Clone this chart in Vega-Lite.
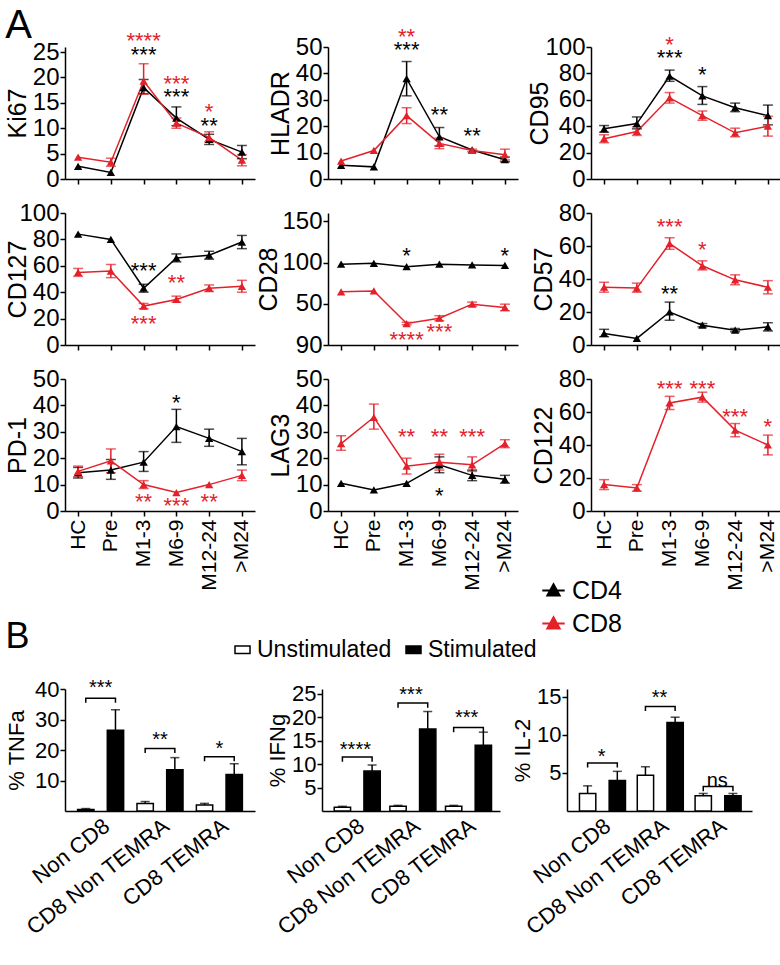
{
"$schema": "https://vega.github.io/schema/vega-lite/v6.json",
"padding": {"left": 5, "top": 5, "right": 3, "bottom": 5},
"config": {
 "font": "Liberation Sans",
 "view": {"stroke": null},
 "axis": {"grid": false, "domainColor": "black", "domainWidth": 1.5, "tickColor": "black", "tickWidth": 1.5, "tickSize": 5, "labelFont": "Liberation Sans", "labelFontSize": 24, "labelColor": "black", "labelOverlap": false, "labelBound": false, "titleFont": "Liberation Sans", "titleFontSize": 25, "titleFontWeight": "normal", "titleColor": "black", "labelPadding": 1, "titlePadding": 2},
 "legend": {"labelFont": "Liberation Sans", "labelColor": "black"},
 "title": {"font": "Liberation Sans", "fontWeight": "normal", "color": "black"},
 "text": {"font": "Liberation Sans"}
},
"resolve": {"scale": {"color": "shared", "fill": "shared"}},
"spacing": 28,
"vconcat": [
{
 "title": {"text": "A", "anchor": "start", "frame": "bounds", "fontSize": 40, "offset": -20},
 "columns": 3,
 "spacing": {"row": 34, "column": 73},
 "bounds": "flush",
 "resolve": {"scale": {"color": "shared"}},
 "concat": [
 {
  "width": 190, "height": 132,
  "data": {"values": [
   {"t":"HC","g":"CD4","m":2.5},{"t":"Pre","g":"CD4","m":1.3},{"t":"M1-3","g":"CD4","m":18,"lo":16.8,"hi":19.6},{"t":"M6-9","g":"CD4","m":12,"lo":10.5,"hi":14.2},{"t":"M12-24","g":"CD4","m":7.8,"lo":6.8,"hi":8.8},{"t":">M24","g":"CD4","m":5.3,"lo":4.0,"hi":6.6},
   {"t":"HC","g":"CD8","m":4.3},{"t":"Pre","g":"CD8","m":3.3,"lo":2.5,"hi":4.1},{"t":"M1-3","g":"CD8","m":19.3,"lo":16.7,"hi":22.7},{"t":"M6-9","g":"CD8","m":11,"lo":10,"hi":12},{"t":"M12-24","g":"CD8","m":8.2,"lo":7.3,"hi":9.3},{"t":">M24","g":"CD8","m":3.7,"lo":2.6,"hi":4.8}
  ]},
  "encoding": {"x": {"field":"t","type":"ordinal","sort":["HC","Pre","M1-3","M6-9","M12-24",">M24"],"scale":{"type":"point","padding":0.4},"axis":{"title":null,"labels":false}},
   "color": {"field":"g","type":"nominal","scale":{"domain":["CD4","CD8"],"range":["#000000","#e4202a"]},
     "legend":{"orient":"none","legendX":476,"legendY":531,"title":null,"labelFontSize":25,"labelOffset":6,"rowPadding":7,"symbolType":"M-1,0H1M0,-0.55L0.55,0.45H-0.55Z","symbolSize":500,"symbolStrokeWidth":2,"symbolOpacity":1,"encode":{"symbols":{"update":{"stroke":{"scale":"color","field":"value"},"fill":{"scale":"color","field":"value"},"opacity":{"value":1}}}}}}},
  "layer": [
   {"mark":{"type":"line","strokeWidth":1.5},"encoding":{"y":{"field":"m","type":"quantitative","scale":{"domain":[0,25]},"axis":{"title":"Ki67","values":[0,5,10,15,20,25],"tickCount":20}}}},
   {"mark":{"type":"rule","strokeWidth":1.5},"encoding":{"y":{"field":"lo","type":"quantitative"},"y2":{"field":"hi"}}},
   {"mark":{"type":"tick","orient":"horizontal","size":10,"thickness":1.5},"encoding":{"y":{"field":"lo","type":"quantitative"}}},
   {"mark":{"type":"tick","orient":"horizontal","size":10,"thickness":1.5},"encoding":{"y":{"field":"hi","type":"quantitative"}}},
   {"mark":{"type":"point","shape":"triangle-up","filled":true,"size":70,"opacity":1},"encoding":{"y":{"field":"m","type":"quantitative"}}},
   {"data":{"values":[{"t":"M1-3","g":"CD8","y":27.7,"s":"****"},{"t":"M1-3","g":"CD4","y":25,"s":"***"},{"t":"M6-9","g":"CD8","y":19.3,"s":"***"},{"t":"M6-9","g":"CD4","y":16.8,"s":"***"},{"t":"M12-24","g":"CD8","y":13.7,"s":"*"},{"t":"M12-24","g":"CD4","y":11,"s":"**"}]},
    "mark":{"type":"text","fontSize":22,"baseline":"middle","dy":3},"encoding":{"y":{"field":"y","type":"quantitative"},"text":{"field":"s"}}}
  ]
 },
 {
  "width": 190, "height": 132,
  "data": {"values": [
   {"t":"HC","g":"CD4","m":5.2},{"t":"Pre","g":"CD4","m":4.6},{"t":"M1-3","g":"CD4","m":38,"lo":31.5,"hi":44.5},{"t":"M6-9","g":"CD4","m":16,"lo":12.5,"hi":19.5},{"t":"M12-24","g":"CD4","m":11},{"t":">M24","g":"CD4","m":7.3,"lo":6.5,"hi":8.3},
   {"t":"HC","g":"CD8","m":6.8},{"t":"Pre","g":"CD8","m":10.8},{"t":"M1-3","g":"CD8","m":24,"lo":21,"hi":27},{"t":"M6-9","g":"CD8","m":13.5,"lo":11.5,"hi":15.5},{"t":"M12-24","g":"CD8","m":10.8,"lo":10.3,"hi":11.3},{"t":">M24","g":"CD8","m":9.2,"lo":7.2,"hi":11.3}
  ]},
  "encoding": {"x": {"field":"t","type":"ordinal","sort":["HC","Pre","M1-3","M6-9","M12-24",">M24"],"scale":{"type":"point","padding":0.4},"axis":{"title":null,"labels":false}},
   "color": {"field":"g","type":"nominal","scale":{"domain":["CD4","CD8"],"range":["#000000","#e4202a"]},"legend":null}},
  "layer": [
   {"mark":{"type":"line","strokeWidth":1.5},"encoding":{"y":{"field":"m","type":"quantitative","scale":{"domain":[0,50]},"axis":{"title":"HLADR","values":[0,10,20,30,40,50],"tickCount":20}}}},
   {"mark":{"type":"rule","strokeWidth":1.5},"encoding":{"y":{"field":"lo","type":"quantitative"},"y2":{"field":"hi"}}},
   {"mark":{"type":"tick","orient":"horizontal","size":10,"thickness":1.5},"encoding":{"y":{"field":"lo","type":"quantitative"}}},
   {"mark":{"type":"tick","orient":"horizontal","size":10,"thickness":1.5},"encoding":{"y":{"field":"hi","type":"quantitative"}}},
   {"mark":{"type":"point","shape":"triangle-up","filled":true,"size":70,"opacity":1},"encoding":{"y":{"field":"m","type":"quantitative"}}},
   {"data":{"values":[{"t":"M1-3","g":"CD8","y":55,"s":"**"},{"t":"M1-3","g":"CD4","y":50,"s":"***"},{"t":"M6-9","g":"CD4","y":25.5,"s":"**"},{"t":"M12-24","g":"CD4","y":17.3,"s":"**"}]},
    "mark":{"type":"text","fontSize":22,"baseline":"middle","dy":3},"encoding":{"y":{"field":"y","type":"quantitative"},"text":{"field":"s"}}}
  ]
 },
 {
  "width": 190, "height": 132,
  "data": {"values": [
   {"t":"HC","g":"CD4","m":38,"lo":35.5,"hi":40.5},{"t":"Pre","g":"CD4","m":42,"lo":38,"hi":47},{"t":"M1-3","g":"CD4","m":78,"lo":74,"hi":82.5},{"t":"M6-9","g":"CD4","m":63,"lo":56.5,"hi":70},{"t":"M12-24","g":"CD4","m":54,"lo":51,"hi":57.5},{"t":">M24","g":"CD4","m":48,"lo":41,"hi":56},
   {"t":"HC","g":"CD8","m":30.5,"lo":27.5,"hi":33.5},{"t":"Pre","g":"CD8","m":36,"lo":33,"hi":39.5},{"t":"M1-3","g":"CD8","m":61.5,"lo":57.5,"hi":65.5},{"t":"M6-9","g":"CD8","m":48,"lo":44.5,"hi":51.5},{"t":"M12-24","g":"CD8","m":35,"lo":32,"hi":38.5},{"t":">M24","g":"CD8","m":40,"lo":32.5,"hi":47.5}
  ]},
  "encoding": {"x": {"field":"t","type":"ordinal","sort":["HC","Pre","M1-3","M6-9","M12-24",">M24"],"scale":{"type":"point","padding":0.4},"axis":{"title":null,"labels":false}},
   "color": {"field":"g","type":"nominal","scale":{"domain":["CD4","CD8"],"range":["#000000","#e4202a"]},"legend":null}},
  "layer": [
   {"mark":{"type":"line","strokeWidth":1.5},"encoding":{"y":{"field":"m","type":"quantitative","scale":{"domain":[0,100]},"axis":{"title":"CD95","values":[0,20,40,60,80,100],"tickCount":20,"titlePadding":-8}}}},
   {"mark":{"type":"rule","strokeWidth":1.5},"encoding":{"y":{"field":"lo","type":"quantitative"},"y2":{"field":"hi"}}},
   {"mark":{"type":"tick","orient":"horizontal","size":10,"thickness":1.5},"encoding":{"y":{"field":"lo","type":"quantitative"}}},
   {"mark":{"type":"tick","orient":"horizontal","size":10,"thickness":1.5},"encoding":{"y":{"field":"hi","type":"quantitative"}}},
   {"mark":{"type":"point","shape":"triangle-up","filled":true,"size":70,"opacity":1},"encoding":{"y":{"field":"m","type":"quantitative"}}},
   {"data":{"values":[{"t":"M1-3","g":"CD8","y":104,"s":"*"},{"t":"M1-3","g":"CD4","y":94,"s":"***"},{"t":"M6-9","g":"CD4","y":81,"s":"*"}]},
    "mark":{"type":"text","fontSize":22,"baseline":"middle","dy":3},"encoding":{"y":{"field":"y","type":"quantitative"},"text":{"field":"s"}}}
  ]
 },
 {
  "width": 190, "height": 132,
  "data": {"values": [
   {"t":"HC","g":"CD4","m":84},{"t":"Pre","g":"CD4","m":80},{"t":"M1-3","g":"CD4","m":43,"lo":40,"hi":46},{"t":"M6-9","g":"CD4","m":66,"lo":63,"hi":69},{"t":"M12-24","g":"CD4","m":68,"lo":65,"hi":71},{"t":">M24","g":"CD4","m":78,"lo":73,"hi":83},
   {"t":"HC","g":"CD8","m":55,"lo":52,"hi":58},{"t":"Pre","g":"CD8","m":56,"lo":51,"hi":61},{"t":"M1-3","g":"CD8","m":29.5,"lo":27.5,"hi":31.5},{"t":"M6-9","g":"CD8","m":34.5,"lo":32.5,"hi":37},{"t":"M12-24","g":"CD8","m":43,"lo":40.5,"hi":45.5},{"t":">M24","g":"CD8","m":44.5,"lo":40,"hi":49}
  ]},
  "encoding": {"x": {"field":"t","type":"ordinal","sort":["HC","Pre","M1-3","M6-9","M12-24",">M24"],"scale":{"type":"point","padding":0.4},"axis":{"title":null,"labels":false}},
   "color": {"field":"g","type":"nominal","scale":{"domain":["CD4","CD8"],"range":["#000000","#e4202a"]},"legend":null}},
  "layer": [
   {"mark":{"type":"line","strokeWidth":1.5},"encoding":{"y":{"field":"m","type":"quantitative","scale":{"domain":[0,100]},"axis":{"title":"CD127","values":[0,20,40,60,80,100],"tickCount":20,"titlePadding":-12}}}},
   {"mark":{"type":"rule","strokeWidth":1.5},"encoding":{"y":{"field":"lo","type":"quantitative"},"y2":{"field":"hi"}}},
   {"mark":{"type":"tick","orient":"horizontal","size":10,"thickness":1.5},"encoding":{"y":{"field":"lo","type":"quantitative"}}},
   {"mark":{"type":"tick","orient":"horizontal","size":10,"thickness":1.5},"encoding":{"y":{"field":"hi","type":"quantitative"}}},
   {"mark":{"type":"point","shape":"triangle-up","filled":true,"size":70,"opacity":1},"encoding":{"y":{"field":"m","type":"quantitative"}}},
   {"data":{"values":[{"t":"M1-3","g":"CD4","y":58,"s":"***"},{"t":"M6-9","g":"CD8","y":49.5,"s":"**"},{"t":"M1-3","g":"CD8","y":18,"s":"***"}]},
    "mark":{"type":"text","fontSize":22,"baseline":"middle","dy":3},"encoding":{"y":{"field":"y","type":"quantitative"},"text":{"field":"s"}}}
  ]
 },
 {
  "width": 190, "height": 132,
  "data": {"values": [
   {"t":"HC","g":"CD4","m":98},{"t":"Pre","g":"CD4","m":99},{"t":"M1-3","g":"CD4","m":95},{"t":"M6-9","g":"CD4","m":98},{"t":"M12-24","g":"CD4","m":97},{"t":">M24","g":"CD4","m":96.5},
   {"t":"HC","g":"CD8","m":64.5},{"t":"Pre","g":"CD8","m":65.5},{"t":"M1-3","g":"CD8","m":26,"lo":24.5,"hi":27.5},{"t":"M6-9","g":"CD8","m":32.5,"lo":29.5,"hi":35.5},{"t":"M12-24","g":"CD8","m":49.5,"lo":47,"hi":52},{"t":">M24","g":"CD8","m":45.5,"lo":41.5,"hi":49.5}
  ]},
  "encoding": {"x": {"field":"t","type":"ordinal","sort":["HC","Pre","M1-3","M6-9","M12-24",">M24"],"scale":{"type":"point","padding":0.4},"axis":{"title":null,"labels":false}},
   "color": {"field":"g","type":"nominal","scale":{"domain":["CD4","CD8"],"range":["#000000","#e4202a"]},"legend":null}},
  "layer": [
   {"mark":{"type":"line","strokeWidth":1.5},"encoding":{"y":{"field":"m","type":"quantitative","scale":{"domain":[0,150]},"axis":{"title":"CD28","values":[0,50,100,150],"tickCount":20,"titlePadding":0,"labelExpr":"datum.value == 0 ? '90' : datum.label"}}}},
   {"mark":{"type":"rule","strokeWidth":1.5},"encoding":{"y":{"field":"lo","type":"quantitative"},"y2":{"field":"hi"}}},
   {"mark":{"type":"tick","orient":"horizontal","size":10,"thickness":1.5},"encoding":{"y":{"field":"lo","type":"quantitative"}}},
   {"mark":{"type":"tick","orient":"horizontal","size":10,"thickness":1.5},"encoding":{"y":{"field":"hi","type":"quantitative"}}},
   {"mark":{"type":"point","shape":"triangle-up","filled":true,"size":70,"opacity":1},"encoding":{"y":{"field":"m","type":"quantitative"}}},
   {"data":{"values":[{"t":"M1-3","g":"CD4","y":112,"s":"*"},{"t":">M24","g":"CD4","y":112,"s":"*"},{"t":"M1-3","g":"CD8","y":10,"s":"****"},{"t":"M6-9","g":"CD8","y":19,"s":"***"}]},
    "mark":{"type":"text","fontSize":22,"baseline":"middle","dy":3},"encoding":{"y":{"field":"y","type":"quantitative"},"text":{"field":"s"}}}
  ]
 },
 {
  "width": 190, "height": 132,
  "data": {"values": [
   {"t":"HC","g":"CD4","m":7,"lo":5,"hi":9.5},{"t":"Pre","g":"CD4","m":4},{"t":"M1-3","g":"CD4","m":20,"lo":15,"hi":26},{"t":"M6-9","g":"CD4","m":12,"lo":11,"hi":13},{"t":"M12-24","g":"CD4","m":9,"lo":8,"hi":10},{"t":">M24","g":"CD4","m":11,"lo":8.5,"hi":13.5},
   {"t":"HC","g":"CD8","m":35,"lo":32,"hi":38},{"t":"Pre","g":"CD8","m":34.5,"lo":32,"hi":37.5},{"t":"M1-3","g":"CD8","m":61.5,"lo":58,"hi":65},{"t":"M6-9","g":"CD8","m":48,"lo":45.5,"hi":51},{"t":"M12-24","g":"CD8","m":39.5,"lo":36.5,"hi":42.5},{"t":">M24","g":"CD8","m":35,"lo":31,"hi":39}
  ]},
  "encoding": {"x": {"field":"t","type":"ordinal","sort":["HC","Pre","M1-3","M6-9","M12-24",">M24"],"scale":{"type":"point","padding":0.4},"axis":{"title":null,"labels":false}},
   "color": {"field":"g","type":"nominal","scale":{"domain":["CD4","CD8"],"range":["#000000","#e4202a"]},"legend":null}},
  "layer": [
   {"mark":{"type":"line","strokeWidth":1.5},"encoding":{"y":{"field":"m","type":"quantitative","scale":{"domain":[0,80]},"axis":{"title":"CD57","values":[0,20,40,60,80],"tickCount":20}}}},
   {"mark":{"type":"rule","strokeWidth":1.5},"encoding":{"y":{"field":"lo","type":"quantitative"},"y2":{"field":"hi"}}},
   {"mark":{"type":"tick","orient":"horizontal","size":10,"thickness":1.5},"encoding":{"y":{"field":"lo","type":"quantitative"}}},
   {"mark":{"type":"tick","orient":"horizontal","size":10,"thickness":1.5},"encoding":{"y":{"field":"hi","type":"quantitative"}}},
   {"mark":{"type":"point","shape":"triangle-up","filled":true,"size":70,"opacity":1},"encoding":{"y":{"field":"m","type":"quantitative"}}},
   {"data":{"values":[{"t":"M1-3","g":"CD8","y":73.5,"s":"***"},{"t":"M6-9","g":"CD8","y":59.5,"s":"*"},{"t":"M1-3","g":"CD4","y":32.5,"s":"**"}]},
    "mark":{"type":"text","fontSize":22,"baseline":"middle","dy":3},"encoding":{"y":{"field":"y","type":"quantitative"},"text":{"field":"s"}}}
  ]
 },
 {
  "width": 190, "height": 132,
  "data": {"values": [
   {"t":"HC","g":"CD4","m":14.5,"lo":12.5,"hi":16.5},{"t":"Pre","g":"CD4","m":15.5,"lo":12,"hi":19.5},{"t":"M1-3","g":"CD4","m":18.5,"lo":15,"hi":22.5},{"t":"M6-9","g":"CD4","m":32,"lo":26,"hi":38.5},{"t":"M12-24","g":"CD4","m":27.5,"lo":24.5,"hi":31},{"t":">M24","g":"CD4","m":22.5,"lo":17.5,"hi":27.5},
   {"t":"HC","g":"CD8","m":15,"lo":13,"hi":17},{"t":"Pre","g":"CD8","m":19,"lo":14.5,"hi":23.5},{"t":"M1-3","g":"CD8","m":10,"lo":8.5,"hi":11.5},{"t":"M6-9","g":"CD8","m":7},{"t":"M12-24","g":"CD8","m":10},{"t":">M24","g":"CD8","m":13.5,"lo":11.5,"hi":15.5}
  ]},
  "encoding": {"x": {"field":"t","type":"ordinal","sort":["HC","Pre","M1-3","M6-9","M12-24",">M24"],"scale":{"type":"point","padding":0.4},"axis":{"title":null,"labelAngle":-90,"labelFontSize":21,"labelPadding":3}},
   "color": {"field":"g","type":"nominal","scale":{"domain":["CD4","CD8"],"range":["#000000","#e4202a"]},"legend":null}},
  "layer": [
   {"mark":{"type":"line","strokeWidth":1.5},"encoding":{"y":{"field":"m","type":"quantitative","scale":{"domain":[0,50]},"axis":{"title":"PD-1","values":[0,10,20,30,40,50],"tickCount":20}}}},
   {"mark":{"type":"rule","strokeWidth":1.5},"encoding":{"y":{"field":"lo","type":"quantitative"},"y2":{"field":"hi"}}},
   {"mark":{"type":"tick","orient":"horizontal","size":10,"thickness":1.5},"encoding":{"y":{"field":"lo","type":"quantitative"}}},
   {"mark":{"type":"tick","orient":"horizontal","size":10,"thickness":1.5},"encoding":{"y":{"field":"hi","type":"quantitative"}}},
   {"mark":{"type":"point","shape":"triangle-up","filled":true,"size":70,"opacity":1},"encoding":{"y":{"field":"m","type":"quantitative"}}},
   {"data":{"values":[{"t":"M6-9","g":"CD4","y":42,"s":"*"},{"t":"M1-3","g":"CD8","y":4.5,"s":"**"},{"t":"M6-9","g":"CD8","y":3,"s":"***"},{"t":"M12-24","g":"CD8","y":4.5,"s":"**"}]},
    "mark":{"type":"text","fontSize":22,"baseline":"middle","dy":3},"encoding":{"y":{"field":"y","type":"quantitative"},"text":{"field":"s"}}}
  ]
 },
 {
  "width": 190, "height": 132,
  "data": {"values": [
   {"t":"HC","g":"CD4","m":10.5},{"t":"Pre","g":"CD4","m":8},{"t":"M1-3","g":"CD4","m":10.5},{"t":"M6-9","g":"CD4","m":17.5,"lo":14.5,"hi":20.5},{"t":"M12-24","g":"CD4","m":13.5,"lo":11.5,"hi":15.5},{"t":">M24","g":"CD4","m":12,"lo":10.5,"hi":13.5},
   {"t":"HC","g":"CD8","m":25.5,"lo":23,"hi":28.5},{"t":"Pre","g":"CD8","m":35.5,"lo":31,"hi":40.5},{"t":"M1-3","g":"CD8","m":17,"lo":14,"hi":20},{"t":"M6-9","g":"CD8","m":18.5,"lo":15.5,"hi":21.5},{"t":"M12-24","g":"CD8","m":17.5,"lo":15,"hi":20.5},{"t":">M24","g":"CD8","m":25.5,"lo":24,"hi":27}
  ]},
  "encoding": {"x": {"field":"t","type":"ordinal","sort":["HC","Pre","M1-3","M6-9","M12-24",">M24"],"scale":{"type":"point","padding":0.4},"axis":{"title":null,"labelAngle":-90,"labelFontSize":21,"labelPadding":3}},
   "color": {"field":"g","type":"nominal","scale":{"domain":["CD4","CD8"],"range":["#000000","#e4202a"]},"legend":null}},
  "layer": [
   {"mark":{"type":"line","strokeWidth":1.5},"encoding":{"y":{"field":"m","type":"quantitative","scale":{"domain":[0,50]},"axis":{"title":"LAG3","values":[0,10,20,30,40,50],"tickCount":20}}}},
   {"mark":{"type":"rule","strokeWidth":1.5},"encoding":{"y":{"field":"lo","type":"quantitative"},"y2":{"field":"hi"}}},
   {"mark":{"type":"tick","orient":"horizontal","size":10,"thickness":1.5},"encoding":{"y":{"field":"lo","type":"quantitative"}}},
   {"mark":{"type":"tick","orient":"horizontal","size":10,"thickness":1.5},"encoding":{"y":{"field":"hi","type":"quantitative"}}},
   {"mark":{"type":"point","shape":"triangle-up","filled":true,"size":70,"opacity":1},"encoding":{"y":{"field":"m","type":"quantitative"}}},
   {"data":{"values":[{"t":"M1-3","g":"CD8","y":29,"s":"**"},{"t":"M6-9","g":"CD8","y":29,"s":"**"},{"t":"M12-24","g":"CD8","y":29,"s":"***"},{"t":"M6-9","g":"CD4","y":7,"s":"*"}]},
    "mark":{"type":"text","fontSize":22,"baseline":"middle","dy":3},"encoding":{"y":{"field":"y","type":"quantitative"},"text":{"field":"s"}}}
  ]
 },
 {
  "width": 190, "height": 132,
  "data": {"values": [
   {"t":"HC","g":"CD8","m":16,"lo":13,"hi":19},{"t":"Pre","g":"CD8","m":14,"lo":12,"hi":16},{"t":"M1-3","g":"CD8","m":65.5,"lo":61.5,"hi":69.5},{"t":"M6-9","g":"CD8","m":69,"lo":66,"hi":72},{"t":"M12-24","g":"CD8","m":49,"lo":45,"hi":53},{"t":">M24","g":"CD8","m":40,"lo":34,"hi":46}
  ]},
  "encoding": {"x": {"field":"t","type":"ordinal","sort":["HC","Pre","M1-3","M6-9","M12-24",">M24"],"scale":{"type":"point","padding":0.4},"axis":{"title":null,"labelAngle":-90,"labelFontSize":21,"labelPadding":3}},
   "color": {"field":"g","type":"nominal","scale":{"domain":["CD4","CD8"],"range":["#000000","#e4202a"]},"legend":null}},
  "layer": [
   {"mark":{"type":"line","strokeWidth":1.5},"encoding":{"y":{"field":"m","type":"quantitative","scale":{"domain":[0,80]},"axis":{"title":"CD122","values":[0,20,40,60,80],"tickCount":20}}}},
   {"mark":{"type":"rule","strokeWidth":1.5},"encoding":{"y":{"field":"lo","type":"quantitative"},"y2":{"field":"hi"}}},
   {"mark":{"type":"tick","orient":"horizontal","size":10,"thickness":1.5},"encoding":{"y":{"field":"lo","type":"quantitative"}}},
   {"mark":{"type":"tick","orient":"horizontal","size":10,"thickness":1.5},"encoding":{"y":{"field":"hi","type":"quantitative"}}},
   {"mark":{"type":"point","shape":"triangle-up","filled":true,"size":70,"opacity":1},"encoding":{"y":{"field":"m","type":"quantitative"}}},
   {"data":{"values":[{"t":"M1-3","g":"CD8","y":76,"s":"***"},{"t":"M6-9","g":"CD8","y":76,"s":"***"},{"t":"M12-24","g":"CD8","y":59,"s":"***"},{"t":">M24","g":"CD8","y":52.5,"s":"*"}]},
    "mark":{"type":"text","fontSize":22,"baseline":"middle","dy":3},"encoding":{"y":{"field":"y","type":"quantitative"},"text":{"field":"s"}}}
  ]
 }
 ]
},
{
 "title": {"text": "B", "anchor": "start", "frame": "bounds", "fontSize": 36, "offset": 22},
 "spacing": 67,
 "bounds": "flush",
 "resolve": {"scale": {"fill": "shared"}},
 "hconcat": [
 {
  "width": 190, "height": 122,
  "data": {"values": [
   {"grp":"Non CD8","cond":"Unstimulated","v":0.5,"hi":0.8},{"grp":"Non CD8","cond":"Stimulated","v":26.5,"hi":33.2},
   {"grp":"CD8 Non TEMRA","cond":"Unstimulated","v":2.5,"hi":3.1},{"grp":"CD8 Non TEMRA","cond":"Stimulated","v":13.5,"hi":17.5},
   {"grp":"CD8 TEMRA","cond":"Unstimulated","v":2,"hi":2.5},{"grp":"CD8 TEMRA","cond":"Stimulated","v":12,"hi":15.5}
  ]},
  "encoding": {"x": {"field":"grp","type":"nominal","sort":["Non CD8","CD8 Non TEMRA","CD8 TEMRA"],"scale":{"paddingInner":0,"paddingOuter":0.1},"axis":{"title":null,"labelAngle":-38,"labelFontSize":22,"ticks":false,"labelPadding":4}}},
  "layer": [
   {"mark":{"type":"bar","stroke":"black","strokeWidth":1.5},"encoding":{"xOffset":{"field":"cond","sort":["Unstimulated","Stimulated"],"scale":{"paddingInner":0.45,"paddingOuter":0.225}},"y":{"field":"v","type":"quantitative","scale":{"domain":[0,40]},"axis":{"title":"% TNFa","titleFontSize":22,"titlePadding":6,"labelFontSize":22,"values":[10,20,30,40],"tickCount":20}},
     "fill":{"field":"cond","type":"nominal","scale":{"domain":["Unstimulated","Stimulated"],"range":["white","black"]},"legend":{"orient":"none","direction":"horizontal","legendX":166,"legendY":591,"title":null,"labelFontSize":23,"labelOffset":3,"columnPadding":10,"symbolType":"M-1,-0.5H1V0.5H-1Z","symbolSize":225,"symbolStrokeColor":"black","symbolStrokeWidth":1.5,"encode":{"symbols":{"update":{"stroke":{"value":"black"},"strokeWidth":{"value":1.5}}}}}}}},
   {"mark":{"type":"rule","strokeWidth":1.5,"color":"black"},"encoding":{"xOffset":{"field":"cond","sort":["Unstimulated","Stimulated"]},"y":{"field":"v","type":"quantitative"},"y2":{"field":"hi"}}},
   {"mark":{"type":"tick","orient":"horizontal","size":9,"thickness":1.5,"color":"black"},"encoding":{"xOffset":{"field":"cond","sort":["Unstimulated","Stimulated"]},"y":{"field":"hi","type":"quantitative"}}},
   {"data":{"values":[
     {"grp":"Non CD8","cond":"Unstimulated","y":35.5,"o":1},{"grp":"Non CD8","cond":"Unstimulated","y":37,"o":2},{"grp":"Non CD8","cond":"Stimulated","y":37,"o":3},{"grp":"Non CD8","cond":"Stimulated","y":35.5,"o":4},
     {"grp":"CD8 Non TEMRA","cond":"Unstimulated","y":19,"o":1},{"grp":"CD8 Non TEMRA","cond":"Unstimulated","y":20.5,"o":2},{"grp":"CD8 Non TEMRA","cond":"Stimulated","y":20.5,"o":3},{"grp":"CD8 Non TEMRA","cond":"Stimulated","y":19,"o":4},
     {"grp":"CD8 TEMRA","cond":"Unstimulated","y":16.3,"o":1},{"grp":"CD8 TEMRA","cond":"Unstimulated","y":17.8,"o":2},{"grp":"CD8 TEMRA","cond":"Stimulated","y":17.8,"o":3},{"grp":"CD8 TEMRA","cond":"Stimulated","y":16.3,"o":4}
    ]},
    "mark":{"type":"line","color":"black","strokeWidth":1.5},"encoding":{"xOffset":{"field":"cond","sort":["Unstimulated","Stimulated"]},"y":{"field":"y","type":"quantitative"},"detail":{"field":"grp"},"order":{"field":"o","type":"quantitative"}}},
   {"data":{"values":[{"grp":"Non CD8","y":41.5,"s":"***"},{"grp":"CD8 Non TEMRA","y":24.5,"s":"**"},{"grp":"CD8 TEMRA","y":21.8,"s":"*"}]},
    "mark":{"type":"text","fontSize":20,"baseline":"middle","dy":4,"color":"black"},"encoding":{"y":{"field":"y","type":"quantitative"},"text":{"field":"s"}}}
  ]
 },
 {
  "width": 178, "height": 122,
  "data": {"values": [
   {"grp":"Non CD8","cond":"Unstimulated","v":0.8,"hi":1.0},{"grp":"Non CD8","cond":"Stimulated","v":8.5,"hi":9.8},
   {"grp":"CD8 Non TEMRA","cond":"Unstimulated","v":1,"hi":1.2},{"grp":"CD8 Non TEMRA","cond":"Stimulated","v":17.5,"hi":21.2},
   {"grp":"CD8 TEMRA","cond":"Unstimulated","v":1,"hi":1.2},{"grp":"CD8 TEMRA","cond":"Stimulated","v":14,"hi":16.8}
  ]},
  "encoding": {"x": {"field":"grp","type":"nominal","sort":["Non CD8","CD8 Non TEMRA","CD8 TEMRA"],"scale":{"paddingInner":0,"paddingOuter":0.1},"axis":{"title":null,"labelAngle":-38,"labelFontSize":22,"ticks":false,"labelPadding":4}}},
  "layer": [
   {"mark":{"type":"bar","stroke":"black","strokeWidth":1.5},"encoding":{"xOffset":{"field":"cond","sort":["Unstimulated","Stimulated"],"scale":{"paddingInner":0.45,"paddingOuter":0.225}},"y":{"field":"v","type":"quantitative","scale":{"domain":[0,25]},"axis":{"title":"% IFNg","titleFontSize":22,"labelFontSize":22,"values":[5,10,15,20,25],"tickCount":20}},
     "fill":{"field":"cond","type":"nominal","scale":{"domain":["Unstimulated","Stimulated"],"range":["white","black"]},"legend":null}}},
   {"mark":{"type":"rule","strokeWidth":1.5,"color":"black"},"encoding":{"xOffset":{"field":"cond","sort":["Unstimulated","Stimulated"]},"y":{"field":"v","type":"quantitative"},"y2":{"field":"hi"}}},
   {"mark":{"type":"tick","orient":"horizontal","size":9,"thickness":1.5,"color":"black"},"encoding":{"xOffset":{"field":"cond","sort":["Unstimulated","Stimulated"]},"y":{"field":"hi","type":"quantitative"}}},
   {"data":{"values":[
     {"grp":"Non CD8","cond":"Unstimulated","y":10.5,"o":1},{"grp":"Non CD8","cond":"Unstimulated","y":11.5,"o":2},{"grp":"Non CD8","cond":"Stimulated","y":11.5,"o":3},{"grp":"Non CD8","cond":"Stimulated","y":10.5,"o":4},
     {"grp":"CD8 Non TEMRA","cond":"Unstimulated","y":22,"o":1},{"grp":"CD8 Non TEMRA","cond":"Unstimulated","y":23,"o":2},{"grp":"CD8 Non TEMRA","cond":"Stimulated","y":23,"o":3},{"grp":"CD8 Non TEMRA","cond":"Stimulated","y":22,"o":4},
     {"grp":"CD8 TEMRA","cond":"Unstimulated","y":16.8,"o":1},{"grp":"CD8 TEMRA","cond":"Unstimulated","y":17.8,"o":2},{"grp":"CD8 TEMRA","cond":"Stimulated","y":17.8,"o":3},{"grp":"CD8 TEMRA","cond":"Stimulated","y":16.8,"o":4}
    ]},
    "mark":{"type":"line","color":"black","strokeWidth":1.5},"encoding":{"xOffset":{"field":"cond","sort":["Unstimulated","Stimulated"]},"y":{"field":"y","type":"quantitative"},"detail":{"field":"grp"},"order":{"field":"o","type":"quantitative"}}},
   {"data":{"values":[{"grp":"Non CD8","y":13.8,"s":"****"},{"grp":"CD8 Non TEMRA","y":25.6,"s":"***"},{"grp":"CD8 TEMRA","y":20.6,"s":"***"}]},
    "mark":{"type":"text","fontSize":20,"baseline":"middle","dy":4,"color":"black"},"encoding":{"y":{"field":"y","type":"quantitative"},"text":{"field":"s"}}}
  ]
 },
 {
  "width": 185, "height": 122,
  "data": {"values": [
   {"grp":"Non CD8","cond":"Unstimulated","v":2.3,"hi":3.3},{"grp":"Non CD8","cond":"Stimulated","v":4,"hi":5.2},
   {"grp":"CD8 Non TEMRA","cond":"Unstimulated","v":4.7,"hi":5.8},{"grp":"CD8 Non TEMRA","cond":"Stimulated","v":11.6,"hi":12.3},
   {"grp":"CD8 TEMRA","cond":"Unstimulated","v":2,"hi":2.3},{"grp":"CD8 TEMRA","cond":"Stimulated","v":2,"hi":2.3}
  ]},
  "encoding": {"x": {"field":"grp","type":"nominal","sort":["Non CD8","CD8 Non TEMRA","CD8 TEMRA"],"scale":{"paddingInner":0,"paddingOuter":0.1},"axis":{"title":null,"labelAngle":-38,"labelFontSize":22,"ticks":false,"labelPadding":4}}},
  "layer": [
   {"mark":{"type":"bar","stroke":"black","strokeWidth":1.5},"encoding":{"xOffset":{"field":"cond","sort":["Unstimulated","Stimulated"],"scale":{"paddingInner":0.45,"paddingOuter":0.225}},"y":{"field":"v","type":"quantitative","scale":{"domain":[0,15]},"axis":{"title":"% IL-2","titleFontSize":22,"labelFontSize":22,"values":[5,10,15],"tickCount":20}},
     "fill":{"field":"cond","type":"nominal","scale":{"domain":["Unstimulated","Stimulated"],"range":["white","black"]},"legend":null}}},
   {"mark":{"type":"rule","strokeWidth":1.5,"color":"black"},"encoding":{"xOffset":{"field":"cond","sort":["Unstimulated","Stimulated"]},"y":{"field":"v","type":"quantitative"},"y2":{"field":"hi"}}},
   {"mark":{"type":"tick","orient":"horizontal","size":9,"thickness":1.5,"color":"black"},"encoding":{"xOffset":{"field":"cond","sort":["Unstimulated","Stimulated"]},"y":{"field":"hi","type":"quantitative"}}},
   {"data":{"values":[
     {"grp":"Non CD8","cond":"Unstimulated","y":5.7,"o":1},{"grp":"Non CD8","cond":"Unstimulated","y":6.3,"o":2},{"grp":"Non CD8","cond":"Stimulated","y":6.3,"o":3},{"grp":"Non CD8","cond":"Stimulated","y":5.7,"o":4},
     {"grp":"CD8 Non TEMRA","cond":"Unstimulated","y":13.1,"o":1},{"grp":"CD8 Non TEMRA","cond":"Unstimulated","y":13.7,"o":2},{"grp":"CD8 Non TEMRA","cond":"Stimulated","y":13.7,"o":3},{"grp":"CD8 Non TEMRA","cond":"Stimulated","y":13.1,"o":4},
     {"grp":"CD8 TEMRA","cond":"Unstimulated","y":2.6,"o":1},{"grp":"CD8 TEMRA","cond":"Unstimulated","y":3.2,"o":2},{"grp":"CD8 TEMRA","cond":"Stimulated","y":3.2,"o":3},{"grp":"CD8 TEMRA","cond":"Stimulated","y":2.6,"o":4}
    ]},
    "mark":{"type":"line","color":"black","strokeWidth":1.5},"encoding":{"xOffset":{"field":"cond","sort":["Unstimulated","Stimulated"]},"y":{"field":"y","type":"quantitative"},"detail":{"field":"grp"},"order":{"field":"o","type":"quantitative"}}},
   {"data":{"values":[{"grp":"Non CD8","y":7.6,"s":"*"},{"grp":"CD8 Non TEMRA","y":15.3,"s":"**"},{"grp":"CD8 TEMRA","y":4.4,"s":"ns"}]},
    "mark":{"type":"text","fontSize":20,"baseline":"middle","dy":4,"color":"black"},"encoding":{"y":{"field":"y","type":"quantitative"},"text":{"field":"s"}}}
  ]
 }
 ]
}
]
}
